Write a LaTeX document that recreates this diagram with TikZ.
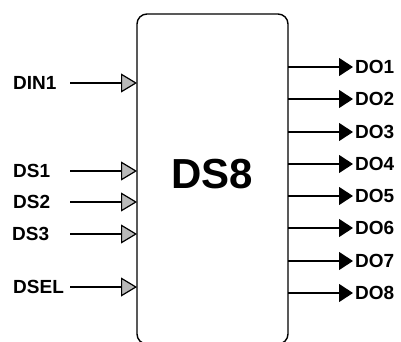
\documentclass[tikz,border=0pt]{standalone}
\usepackage{fontspec}
\setmainfont{Liberation Sans}
\usepackage{tikz}
\usetikzlibrary{arrows.meta, positioning}

\begin{document}
\begin{tikzpicture}[
  x=1pt, y=-1pt,
  every node/.style={font=\bfseries\fontsize{19}{21}\selectfont, inner sep=0pt},
  block/.style={
    draw, rounded corners=10pt, line width=1.4pt,
    minimum width=151pt, minimum height=330pt, outer sep=0pt
  },
  title/.style={font=\bfseries\fontsize{42}{46}\selectfont},
  inlabel/.style={anchor=west},
  outlabel/.style={anchor=west},
  inarrow/.style={-{Triangle[length=16pt,width=19pt,fill=gray!55]},
                  line width=1.2pt},
  outarrow/.style={-{Triangle[length=14pt,width=18pt]}, line width=1.2pt}
]
\useasboundingbox (0,0) rectangle (401,342);

%% ── Block ────────────────────────────────────────────────────
\node[block] (ds8) at (212.5,179) {};
\node[title] (name) at (212,174) {DS8};

%% ── Inputs (left side) ───────────────────────────────────────
\coordinate (instart) at (70,0);
\node[inlabel] (din1) at (13,83)  {DIN1};
\node[inlabel] (ds1)  at (13,171) {DS1};
\node[inlabel] (ds2)  at (13,202) {DS2};
\node[inlabel] (ds3)  at (12,234) {DS3};
\node[inlabel] (dsel) at (13,287) {DSEL};

%% ── Outputs (right side) ─────────────────────────────────────
\coordinate (outend) at (353,0);
\node[outlabel] (do1) at (355,67)  {DO1};
\node[outlabel] (do2) at (355,99)  {DO2};
\node[outlabel] (do3) at (355,132) {DO3};
\node[outlabel] (do4) at (355,164) {DO4};
\node[outlabel] (do5) at (355,196) {DO5};
\node[outlabel] (do6) at (355,228) {DO6};
\node[outlabel] (do7) at (355,261) {DO7};
\node[outlabel] (do8) at (355,293) {DO8};

%% ── Input arrows ─────────────────────────────────────────────
\draw[inarrow] (din1 -| instart) -- (din1 -| ds8.west);
\draw[inarrow] (ds1 -| instart)  -- (ds1 -| ds8.west);
\draw[inarrow] (ds2 -| instart)  -- (ds2 -| ds8.west);
\draw[inarrow] (ds3 -| instart)  -- (ds3 -| ds8.west);
\draw[inarrow] (dsel -| instart) -- (dsel -| ds8.west);

%% ── Output arrows ────────────────────────────────────────────
\draw[outarrow] (do1 -| ds8.east) -- (do1 -| outend);
\draw[outarrow] (do2 -| ds8.east) -- (do2 -| outend);
\draw[outarrow] (do3 -| ds8.east) -- (do3 -| outend);
\draw[outarrow] (do4 -| ds8.east) -- (do4 -| outend);
\draw[outarrow] (do5 -| ds8.east) -- (do5 -| outend);
\draw[outarrow] (do6 -| ds8.east) -- (do6 -| outend);
\draw[outarrow] (do7 -| ds8.east) -- (do7 -| outend);
\draw[outarrow] (do8 -| ds8.east) -- (do8 -| outend);

\end{tikzpicture}
\end{document}
